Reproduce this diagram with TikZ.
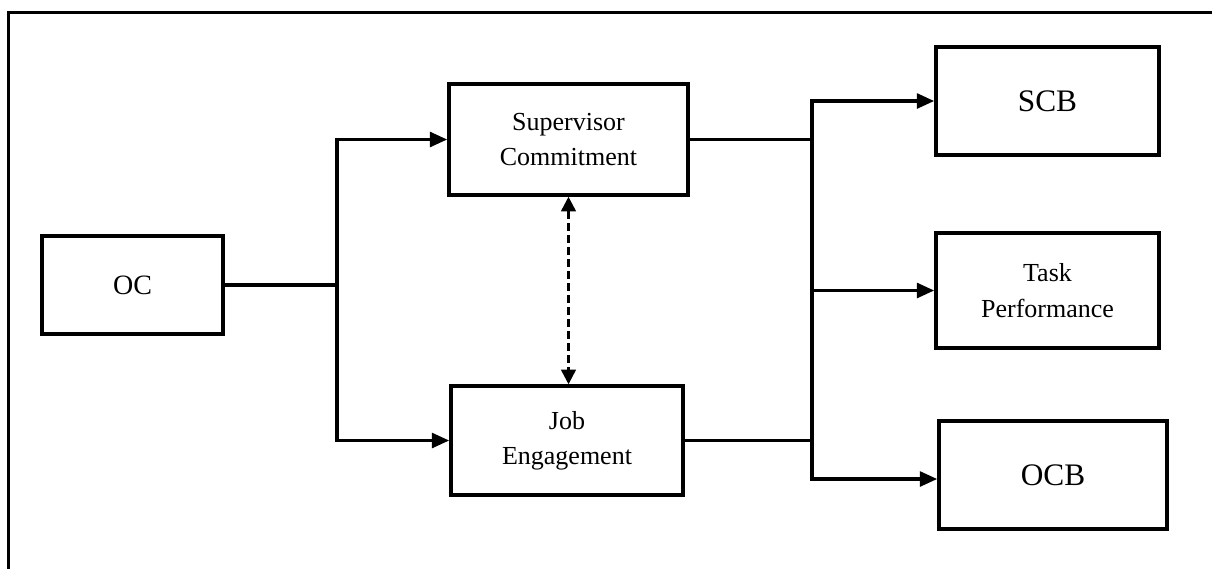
\documentclass[tikz,border=0pt]{standalone}
\usepackage{fontspec}
\setmainfont{Liberation Serif}
\usetikzlibrary{arrows.meta}
\begin{document}
\begin{tikzpicture}[x=0.75pt,y=-0.75pt,
  box/.style={draw,line width=2.6pt,inner sep=0pt,align=center,anchor=center},
  bigtxt/.style={font=\fontsize{23.5}{27}\selectfont},
  octxt/.style={font=\fontsize{21}{26}\selectfont},
  smalltxt/.style={font=\fontsize{19.5}{26.5}\selectfont},
  conn/.style={line width=2.6pt},
  arr/.style={line width=2.6pt,-{Triangle[length=13pt,width=11pt]}},
  darr/.style={line width=1.9pt,dash pattern=on 6pt off 3pt,{Triangle[length=11pt,width=11pt]}-{Triangle[length=11pt,width=11pt]}},
  frame/.style={line width=1.6pt}]
\useasboundingbox (0,0) rectangle (1212,569);
\draw[frame] (1212,12.5) -- (8.5,12.5) -- (8.5,569);
% boxes
\node[box,octxt,minimum width=135.75pt,minimum height=73.5pt] (oc) at (132.5,285) {OC};
\node[box,smalltxt,minimum width=179.25pt,minimum height=83.25pt] (sc) at (568.5,139.5) {Supervisor\\Commitment};
\node[box,smalltxt,minimum width=174pt,minimum height=81.75pt] (je) at (567,440.5) {Job\\Engagement};
\node[box,bigtxt,minimum width=167.25pt,minimum height=81pt] (scb) at (1047.5,101) {SCB};
\node[box,smalltxt,minimum width=167.25pt,minimum height=86.25pt] (tp) at (1047.5,290.5) {Task\\Performance};
\node[box,bigtxt,minimum width=171pt,minimum height=81pt] (ocb) at (1053,475) {OCB};
% branch points
\coordinate (x1) at (337,0);
\coordinate (x2) at (812,0);
\coordinate (b1) at (oc.east -| x1);
\coordinate (b2) at (sc.east -| x2);
\coordinate (b3) at (je.east -| x2);
% connectors
\draw[conn] (oc.east) -- (b1);
\draw[arr] (b1) |- (sc.west);
\draw[arr] (b1) |- (je.west);
\draw[conn] (sc.east) -- (b2);
\draw[arr] (b2) |- (scb.west);
\draw[arr] (b2) |- (tp.west);
\draw[conn] (je.east) -- (b3);
\draw[conn] (b2) -- (b3);
\draw[arr] (b3) |- ([yshift=-3pt]ocb.west);
\draw[darr] (sc.south) -- (sc.south |- je.north);
\end{tikzpicture}
\end{document}
